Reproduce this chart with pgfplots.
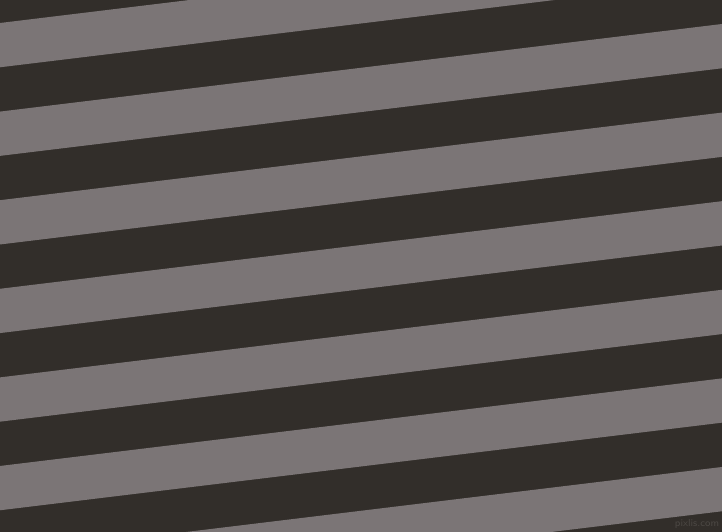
\documentclass[border=0pt]{standalone}
\usepackage{pgfplots}
\pgfplotsset{compat=1.18}
\definecolor{stripedark}{HTML}{322E2A}
\definecolor{stripegrey}{HTML}{7B7576}
\definecolor{markgrey}{HTML}{4C4844}
\begin{document}
\begin{tikzpicture}
\begin{axis}[
  width=10cm, height=7.3684cm, scale only axis,
  xmin=0, xmax=722, ymin=0, ymax=532, y dir=reverse,
  hide axis, clip=true,
]
% dark background
\addplot[draw=none, fill=stripedark] coordinates {(0,0) (722,0) (722,532) (0,532)} -- cycle;
% grey stripes: corners (left top, right top, right bottom, left bottom)
\addplot[draw=none, fill=stripegrey] coordinates {(0,23.0) (722,-64.6) (722,-20.3) (0,67.3)} -- cycle;
\addplot[draw=none, fill=stripegrey] coordinates {(0,111.6) (722,24.0) (722,68.3) (0,155.9)} -- cycle;
\addplot[draw=none, fill=stripegrey] coordinates {(0,200.2) (722,112.6) (722,156.9) (0,244.5)} -- cycle;
\addplot[draw=none, fill=stripegrey] coordinates {(0,288.8) (722,201.2) (722,245.5) (0,333.1)} -- cycle;
\addplot[draw=none, fill=stripegrey] coordinates {(0,377.4) (722,289.8) (722,334.1) (0,421.7)} -- cycle;
\addplot[draw=none, fill=stripegrey] coordinates {(0,466.0) (722,378.4) (722,422.7) (0,510.3)} -- cycle;
\addplot[draw=none, fill=stripegrey] coordinates {(0,554.6) (722,467.0) (722,511.3) (0,598.9)} -- cycle;
\node[text=markgrey, font=\fontsize{4}{4}\selectfont\sffamily, anchor=center, inner sep=0pt]
  at (axis cs:697,524) {pixlis.com};
\end{axis}
\end{tikzpicture}
\end{document}
